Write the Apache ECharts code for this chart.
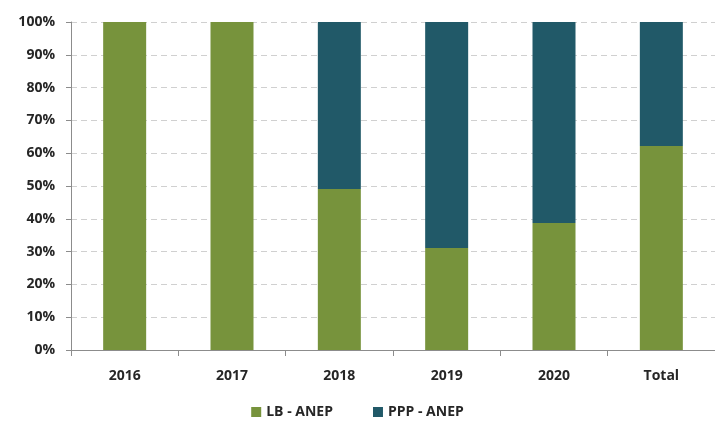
<!DOCTYPE html>
<html><head><meta charset="utf-8">
<script src="https://cdn.jsdelivr.net/npm/echarts@6/dist/echarts.min.js"></script>
<style>html,body{margin:0;padding:0;background:#fff}#c{width:715px;height:422px}</style>
</head><body><div id="c"></div>
<script>
const categories = ['2016','2017','2018','2019','2020','Total'];
const lbAnep = [100, 100, 49.1, 31.1, 38.7, 62.2];
const pppAnep = [0, 0, 50.9, 68.9, 61.3, 37.8];
const yTicks = [0,10,20,30,40,50,60,70,80,90,100];

const chart = echarts.init(document.getElementById('c'));
chart.setOption({
  animation: false,
  grid: {left: 71, right: 0, top: 22, bottom: 72, containLabel: false},
  legend: {
    bottom: -2, left: 'center', itemWidth: 10, itemHeight: 10, itemGap: 40,
    icon: 'rect',
    textStyle: {fontFamily: 'Open Sans, sans-serif', fontWeight: 'bold', fontSize: 14, color: '#262626'},
    data: ['LB - ANEP', 'PPP - ANEP']
  },
  xAxis: {
    type: 'category', data: categories,
    axisLine: {lineStyle: {color: '#8c8c8c'}},
    axisTick: {show: true, alignWithLabel: false, length: 6, lineStyle: {color: '#8c8c8c'}},
    axisLabel: {margin: 19, fontFamily: 'Open Sans, sans-serif', fontWeight: 'bold', fontSize: 14, color: '#262626'}
  },
  yAxis: {
    type: 'value', min: 0, max: 100, interval: 10,
    axisLine: {show: true, lineStyle: {color: '#8c8c8c'}},
    axisTick: {show: true, length: 5, lineStyle: {color: '#8c8c8c'}},
    axisLabel: {margin: 16, formatter: v => yTicks.includes(v) ? v + '%' : '', fontFamily: 'Open Sans, sans-serif', fontWeight: 'bold', fontSize: 14, color: '#262626'},
    splitLine: {lineStyle: {color: '#d0d0d0', type: [6, 4]}}
  },
  series: [
    {name: 'LB - ANEP', type: 'bar', stack: 's', data: lbAnep, barWidth: 43, itemStyle: {color: '#77933C'}},
    {name: 'PPP - ANEP', type: 'bar', stack: 's', data: pppAnep, barWidth: 43, itemStyle: {color: '#215968'}}
  ]
});
</script></body></html>
